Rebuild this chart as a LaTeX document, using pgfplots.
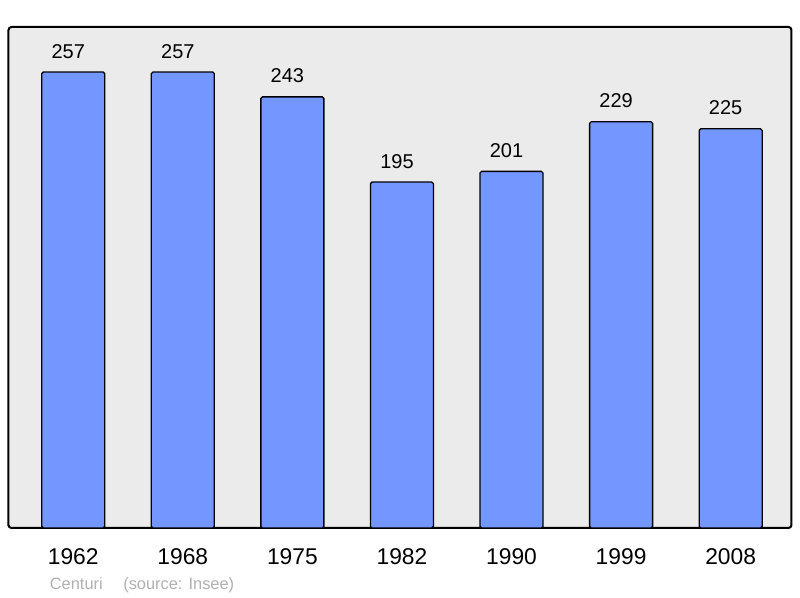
\documentclass[border=0pt]{standalone}
\usepackage{pgfplots}
\pgfplotsset{compat=1.18}
\usepackage{fontspec}
\setmainfont{Liberation Sans}
\definecolor{barblue}{RGB}{115,150,255}
\definecolor{plotbg}{RGB}{235,235,235}
\definecolor{srcgray}{RGB}{176,176,176}
\begin{document}
\begin{tikzpicture}
\useasboundingbox (-4.25pt,-35pt) rectangle (395.75pt,264pt);
\begin{axis}[
    at={(0pt,0pt)},
    anchor=south west,
    width=391.5pt,
    height=250.5pt,
    scale only axis,
    ybar,
    bar width=31.5pt,
    xmin=-0.591, xmax=6.555,
    ymin=0, ymax=282.4,
    xtick=data,
    xticklabels={1962,1968,1975,1982,1990,1999,2008},
    ytick=\empty,
    major tick length=0pt,
    xticklabel style={anchor=base, yshift=-18.3pt, font=\fontsize{11.4pt}{13pt}\selectfont},
    axis background/.style={fill=plotbg},
    axis line style={line width=1pt, rounded corners=1.5pt},
    /pgf/number format/assume math mode=true,
    nodes near coords,
    every node near coord/.append style={anchor=base, xshift=-2.5pt, yshift=7pt, font=\fontsize{10pt}{12pt}\selectfont, black},
]
\addplot[draw=black, fill=barblue, line width=0.65pt, rounded corners=0.8pt] coordinates {
    (0,257) (1,257) (2,243) (3,195) (4,201) (5,229) (6,225)
};
\end{axis}
\node[anchor=base west, inner sep=0pt, text=srcgray, font=\fontsize{8.2pt}{9.5pt}\selectfont] at (20.5pt,-31pt) {Centuri\hspace{8pt} (source: Insee)};
\end{tikzpicture}
\end{document}
